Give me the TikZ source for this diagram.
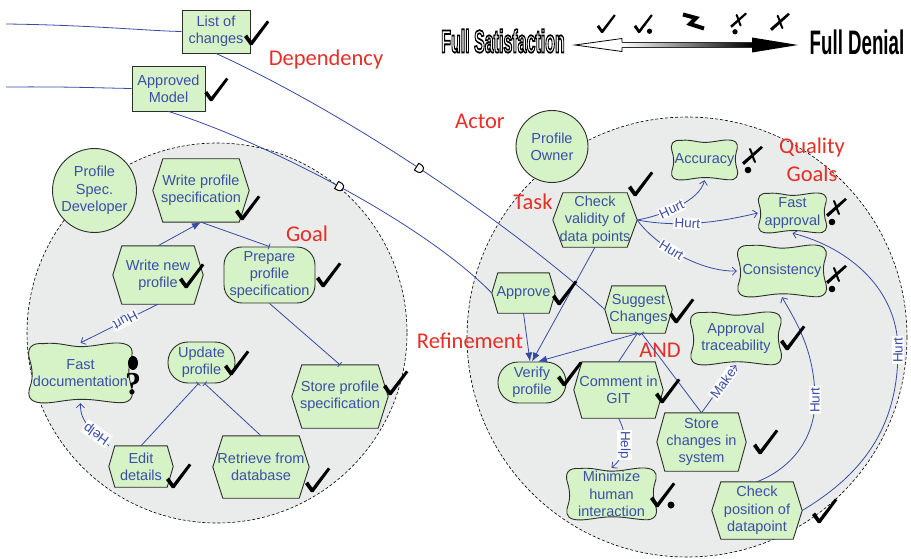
\documentclass[tikz,border=0pt]{standalone}
\usepackage{fontspec}
\setmainfont{Liberation Sans}
\newfontfamily\calfont{Carlito}
\newfontfamily\qfont{Liberation Serif}
\usepackage{graphicx}
\usetikzlibrary{arrows.meta,calc,decorations.markings}

\definecolor{nodegreen}{RGB}{214,242,199}
\definecolor{actorgray}{RGB}{234,236,235}
\definecolor{textblue}{RGB}{60,78,168}
\definecolor{linkblue}{RGB}{55,75,165}
\definecolor{labelred}{RGB}{228,48,38}
\definecolor{shapegray}{RGB}{45,45,45}

\pgfdeclarelayer{actors}
\pgfdeclarelayer{shapes}
\pgfsetlayers{actors,shapes,main}

\newcommand\nodefont{\fontsize{14.5}{17.3}\selectfont}
\newcommand\linkfont{\fontsize{13.5}{15}\selectfont}
\newcommand\redfont{\calfont\fontsize{22.5}{27.5}\selectfont}
% white glyphs with a black stroked outline (text rendering mode 2)
\newcommand\outlinedtext[1]{\scalebox{0.5}[1]{\bfseries\fontsize{32}{32}\selectfont
  \special{pdf:literal direct 2 Tr 1.8 w 0 0 0 RG 1 1 1 rg}#1\special{pdf:literal direct 0 Tr}}}

\tikzset{
  nodetext/.style={font=\nodefont, text=textblue, align=center, inner sep=0pt},
  shapeline/.style={draw=shapegray, line width=0.9pt},
  goalbox/.style={nodetext, shapeline, fill=nodegreen},
  resbox/.style={nodetext, shapeline, fill=nodegreen},
  actornode/.style={nodetext, shapeline, fill=nodegreen, circle},
  boundary/.style={draw=black, fill=actorgray, dash pattern=on 3pt off 2pt, line width=0.6pt},
  link/.style={draw=linkblue, line width=0.8pt},
  meansend/.style={link, -{Latex[length=9pt,width=7pt]}},
  contrib/.style={link, -{Straight Barb[length=4pt,width=8pt]}},
  decomp/.style={link, -{Bar[width=6pt]}},
  linklabel/.style={font=\linkfont, text=textblue, fill=white, inner sep=1pt},
  redlabel/.style={font=\redfont, text=labelred, align=center},
  depmark/.style={postaction={decorate, decoration={markings,
      mark=at position #1 with {\draw[black, fill=white, line width=1pt]
        (-3,-4) -- (1,-4) .. controls (5.5,-4) and (5.5,4) .. (1,4) -- (-3,4) -- cycle;}}}},
  checkmark/.pic={\fill[black] (-7,-7) -- (-4,-9.5) -- (0.3,-3.2) -- (16,-23.5)
      -- (18.3,-21.8) -- (1.3,1.2) -- (-1,1.2) -- cycle;},
  partcheck/.pic={\fill[black] (-7,-7) -- (-4,-9.5) -- (0.3,-3.2) -- (16,-23.5)
      -- (18.3,-21.8) -- (1.3,1.2) -- (-1,1.2) -- cycle;
      \fill[black] (14,-1) circle (3.5);},
  crossmark/.pic={\fill[black] (-1,-1.5) -- (18,-18) -- (20,-16.3) -- (1,1) -- cycle;
      \draw[black, line width=2pt, line cap=round] (7,-15) .. controls (9,-11) and (10,-6) .. (12,-2);},
  partcross/.pic={\fill[black] (-1,-1.5) -- (18,-18) -- (20,-16.3) -- (1,1) -- cycle;
      \draw[black, line width=2pt, line cap=round] (7,-15) .. controls (9,-11) and (10,-6) .. (12,-2);
      \fill[black] (5,6) circle (3.3);},
}

% task: hexagon with pointed left and right ends
\newcommand\taskhex[6]{%
  \node[nodetext, minimum width=#3pt, minimum height=#4pt] (#1) at (#2) {#6};
  \begin{pgfonlayer}{shapes}
    \draw[shapeline, fill=nodegreen] (#1.west) -- ([xshift=#5pt]#1.north west)
      -- ([xshift=-#5pt]#1.north east) -- (#1.east) -- ([xshift=-#5pt]#1.south east)
      -- ([xshift=#5pt]#1.south west) -- cycle;
  \end{pgfonlayer}}

% softgoal: wavy cloud outline
\newcommand\softgoal[5]{%
  \node[nodetext, minimum width=#3pt, minimum height=#4pt] (#1) at (#2) {#5};
  \begin{pgfonlayer}{shapes}
    \draw[shapeline, fill=nodegreen, shift={(#1.center)}, xscale=#3/2, yscale=#4/2]
      (-0.7,-0.98)
      .. controls (-0.4,-1.04) and (-0.2,-0.86) .. (0.05,-0.88)
      .. controls (0.35,-0.9) and (0.6,-1.06) .. (0.82,-0.98)
      .. controls (1.02,-0.9) and (1.0,-0.65) .. (0.95,-0.4)
      .. controls (0.9,-0.15) and (0.92,0.2) .. (0.97,0.45)
      .. controls (1.03,0.8) and (0.95,1.02) .. (0.72,0.99)
      .. controls (0.45,0.96) and (0.25,0.86) .. (-0.05,0.88)
      .. controls (-0.35,0.9) and (-0.6,1.05) .. (-0.82,0.98)
      .. controls (-1.02,0.9) and (-1.0,0.65) .. (-0.95,0.4)
      .. controls (-0.9,0.15) and (-0.92,-0.2) .. (-0.97,-0.45)
      .. controls (-1.03,-0.8) and (-0.95,-1.02) .. (-0.7,-0.98) -- cycle;
  \end{pgfonlayer}}

\begin{document}
\begin{tikzpicture}[x=1pt,y=-1pt]
\useasboundingbox (0,0) rectangle (911,559);

% actor boundaries
\begin{pgfonlayer}{actors}
  \draw[boundary] (217,333) circle (190);
  \draw[boundary] (687,337) circle (220);
\end{pgfonlayer}

% legend
\node[inner sep=0pt] (fullsat) at (503,41) {\outlinedtext{Full Satisfaction}};
\node[text=black, inner sep=0pt] (fulldenial) at (857,42)
  {\scalebox{0.55}[1]{\bfseries\fontsize{34}{34}\selectfont Full Denial}};
\fill[left color=white, right color=black] (622,42.5) rectangle (752,47.5);
\draw[shapegray, line width=0.4pt] (622,42.5) -- (752,42.5) (622,47.5) -- (752,47.5);
\draw[black, fill=white, line width=0.8pt] (622,42.5) -- (622,38.5) -- (575,45) -- (622,51.5) -- (622,47.5);
\fill[black] (752,37.5) -- (798,45) -- (752,52.5) -- cycle;
\pic[scale=0.75] at (602,32) {checkmark};
\pic[scale=0.75] at (639,32) {partcheck};
\draw[black, line width=4pt, line join=miter] (683,14.5) -- (696,18) -- (690,24) -- (704,28.5);
\pic[scale=0.8] at (731,27) {partcross};
\pic[scale=0.95] at (771,30) {crossmark};

% resources and actors
\node[resbox, minimum width=68pt, minimum height=43pt] (loc) at (216,31.5) {List of\\changes};
\node[resbox, minimum width=73pt, minimum height=45pt] (am) at (168.5,88.5) {Approved\\Model};
\node[actornode, minimum size=84pt] (psd) at (94.5,190.5) {Profile\\Spec.\\Developer};
\node[actornode, minimum size=72pt] (po) at (552,146.5) {Profile\\Owner};

% left actor
\taskhex{wps}{201,190.5}{96}{63}{10}{Write profile\\specification}
\taskhex{wnp}{158,275}{90}{58}{9}{Write new\\profile}
\node[goalbox, rounded corners=18pt, minimum width=91pt, minimum height=56pt] (pps) at (269.5,275) {Prepare\\profile\\specification};
\softgoal{fd}{80.5,373}{105}{60}{Fast\\documentation}
\node[goalbox, rounded corners=20pt, minimum width=67pt, minimum height=41pt] (up) at (201.5,362.5) {Update\\profile};
\taskhex{spsp}{340,396.5}{96}{63}{10}{Store profile\\specification}
\taskhex{ed}{141,466.5}{64}{41}{6}{Edit\\details}
\taskhex{rfd}{261,467}{96}{62}{10}{Retrieve from\\database}

% right actor
\taskhex{cv}{595,220}{84}{54}{10}{Check\\validity of\\data points}
\softgoal{acc}{704.5,160}{67}{40}{Accuracy}
\softgoal{fa}{792.5,213}{69}{40}{Fast\\approval}
\softgoal{cons}{782,271}{90}{52}{Consistency}
\taskhex{appr}{523.5,293}{63}{40}{6}{Approve}
\taskhex{sc}{638.5,309.5}{67}{47}{7}{Suggest\\Changes}
\node[goalbox, rounded corners=20pt, minimum width=68pt, minimum height=41pt] (vp) at (532,382.5) {Verify\\profile};
\taskhex{cgit}{618.5,390}{89}{56}{8}{Comment in\\GIT}
\softgoal{at}{736,338.5}{92}{53}{Approval\\traceability}
\taskhex{scs}{701.5,442}{89}{58}{8}{Store\\changes in\\system}
\softgoal{mhi}{611.5,494}{91}{52}{Minimize\\human\\interaction}
\taskhex{cpd}{757,510.5}{90}{57}{9}{Check\\position of\\datapoint}

% red captions
\node[redlabel] (capdep) at (326,60) {Dependency};
\node[redlabel] (capactor) at (480,121) {Actor};
\node[redlabel] (captask) at (533,202) {Task};
\node[redlabel] (capgoal) at (307,233.5) {Goal};
\node[redlabel] (capqual) at (812,160) {Quality\\Goals};
\node[redlabel] (capref) at (470,340.5) {Refinement};
\node[redlabel] (capand) at (660,350.5) {AND};

% dependencies
\coordinate (lin) at (6,24);
\coordinate (ain) at (6,87);
\draw[link] (lin) .. controls (90,25) and (150,31) .. (loc.west);
\draw[link] (ain) .. controls (70,86.5) and (100,88) .. (am.west);
\draw[link, depmark=0.5] (loc.south) .. controls (340,110) and (500,215) .. (sc.west);
\draw[link, depmark=0.5] (am.south) .. controls (260,140) and (420,220) .. (appr.west);

% means-end links
\draw[meansend] (wnp.north) -- (wps.south);
\draw[meansend] (appr.south) -- ([xshift=-2pt]vp.north);
\draw[meansend] (cv.south) -- (vp.north);
\draw[meansend] (sc.south) -- ([xshift=6pt]vp.north);

% decompositions
\draw[decomp] (wps.south) -- (pps.north);
\draw[decomp] (pps.south) -- (spsp.north);
\draw[decomp] (ed.north) -- ([xshift=-3pt]up.south);
\draw[decomp] (rfd.north) -- ([xshift=3pt]up.south);
\draw[decomp] (cgit.north) -- ([xshift=-1pt]sc.south);
\draw[decomp] (scs.north) -- ([xshift=3pt]sc.south);

% contributions
\draw[contrib] (wnp.south) -- node[linklabel, rotate=208, pos=0.42] (lhurta) {Hurt} (fd.north);
\draw[contrib] (ed.north west) .. controls (95,430) and (80,425) .. node[linklabel, rotate=145, pos=0.3] (lhelpa) {Help} (fd.south);
\draw[contrib] (cv.east) .. controls (665,215) and (700,200) .. node[linklabel, rotate=25, pos=0.4] (lhurtb) {Hurt} (acc.south);
\draw[contrib] (cv.east) .. controls (680,228) and (720,222) .. node[linklabel, rotate=-3, pos=0.4] (lhurtc) {Hurt} (fa.west);
\draw[contrib] (cv.east) .. controls (655,245) and (700,272) .. node[linklabel, rotate=-32, pos=0.42] (lhurtd) {Hurt} (cons.west);
\draw[contrib] (scs.north) -- node[linklabel, rotate=54, pos=0.62] (lmake) {Make} (at.south);
\draw[contrib] (cgit.south) .. controls (630,440) and (624,458) .. node[linklabel, rotate=-90, pos=0.45] (lhelpb) {Help} (mhi.north);
\draw[contrib] (cpd.north) .. controls (792,468) and (815,438) .. (815,400) node[linklabel, rotate=90] (lhurte) {Hurt}
  .. controls (815,350) and (795,320) .. (cons.south);
\draw[contrib] (cpd.east) .. controls (870,470) and (898,420) .. (898,350) node[linklabel, rotate=90] (lhurtf) {Hurt}
  .. controls (898,290) and (850,248) .. (fa.south);

% evaluation marks
\pic at (251,44) {checkmark};
\pic[scale=0.95] at (211,100) {checkmark};
\pic at (242,219) {checkmark};
\pic at (186,287) {checkmark};
\pic at (323,286) {checkmark};
\pic at (231,374) {checkmark};
\pic at (390,394) {checkmark};
\pic at (173,487) {checkmark};
\pic at (312,491) {checkmark};
\pic at (635,195) {checkmark};
\pic at (559,304) {checkmark};
\pic at (676,322) {checkmark};
\pic at (564,385) {checkmark};
\pic at (662,402) {checkmark};
\pic at (787,349) {checkmark};
\pic at (760,453) {checkmark};
\pic at (819,522) {checkmark};
\pic at (657,506) {partcheck};
\pic at (743,164) {partcross};
\pic at (827,216) {partcross};
\pic at (827,283) {partcross};
\fill[black] (133,363) ellipse (5 and 7);
\node[text=black, inner sep=0pt, font=\qfont\bfseries\fontsize{32}{32}\selectfont] (fdq) at (133,384) {?};

\end{tikzpicture}
\end{document}
